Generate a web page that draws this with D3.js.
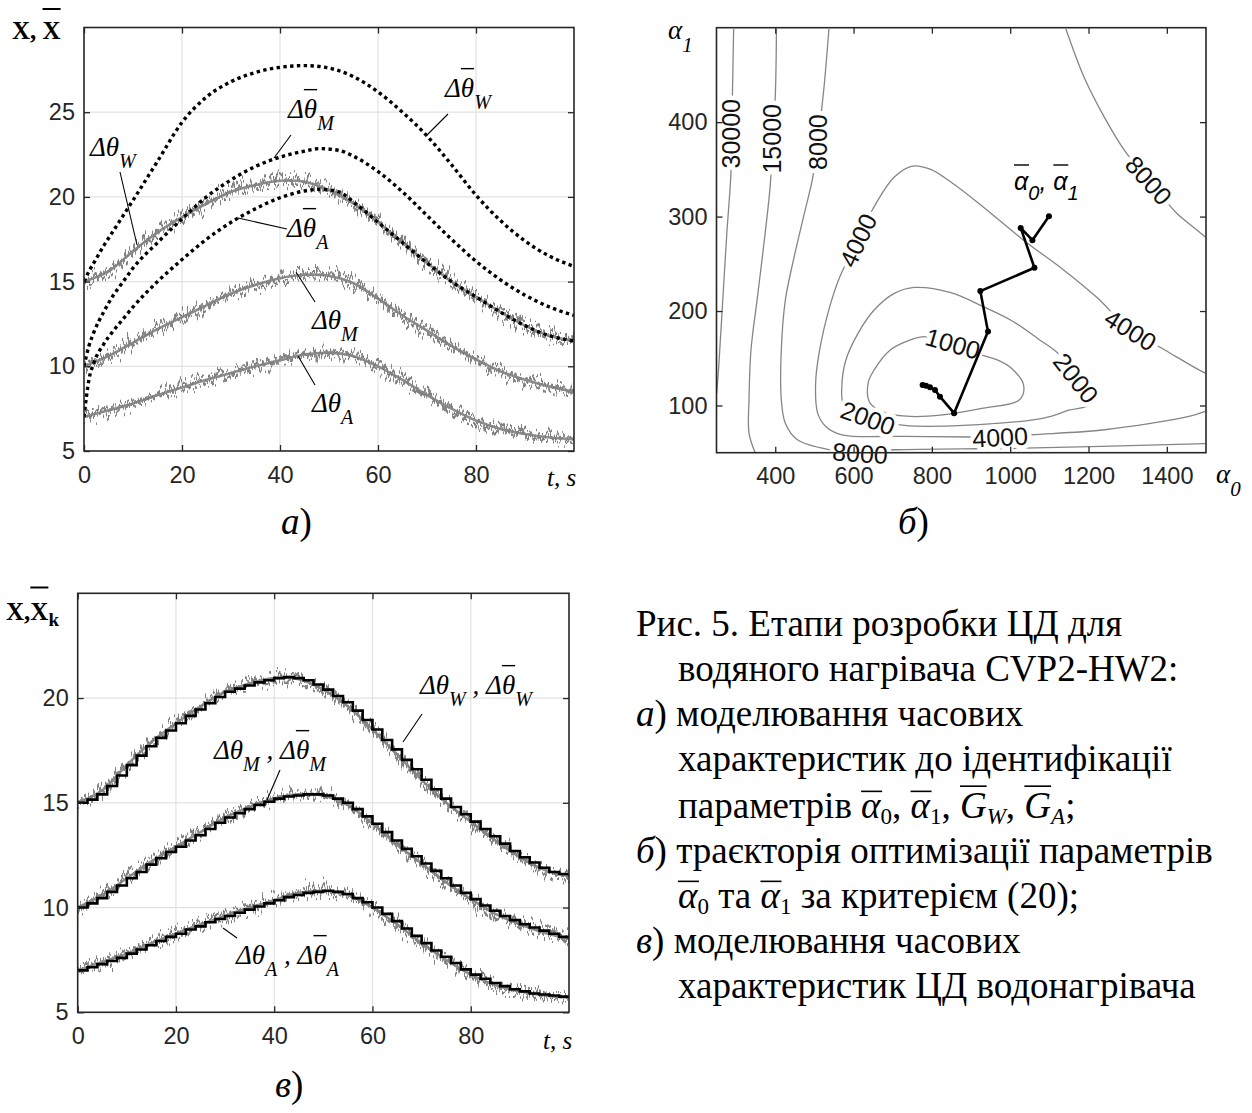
<!DOCTYPE html>
<html><head><meta charset="utf-8">
<script src="https://cdn.jsdelivr.net/npm/d3@7"></script>
<style>body{margin:0;background:#fff} svg{display:block}</style>
</head><body>
<svg id="c" width="1252" height="1113"></svg>
<script>
// ---------------- DATA ----------------
// panel a / c : measured (grey) temperature rises, read every 5 s
const tMeas = [0,5,10,15,20,25,30,35,40,45,50,55,60,65,70,75,80,85,90,95,100];
const W_meas = [15.0,15.6,16.8,17.9,18.8,19.6,20.3,20.7,20.95,20.9,20.4,19.6,18.5,17.3,16.1,15.0,14.1,13.2,12.4,11.8,11.5];
const M_meas = [10.0,10.6,11.4,12.2,12.9,13.6,14.3,14.8,15.2,15.4,15.35,14.9,14.0,13.0,12.1,11.2,10.4,9.7,9.2,8.8,8.5];
const A_meas = [7.0,7.4,7.8,8.3,8.75,9.2,9.6,10.0,10.35,10.7,10.8,10.6,10.0,9.2,8.3,7.5,6.8,6.3,6.0,5.8,5.7];

// panel a : model before identification (dotted)
const tDot = [0,1,2,4,6,8,10,15,20,25,30,35,40,45,48,52,55,60,65,70,75,80,85,90,95,100];
const W_dot = [15.0,15.6,16.1,17.1,18.0,18.9,19.8,22.1,24.4,25.9,26.8,27.35,27.65,27.75,27.7,27.45,27.1,26.2,25.0,23.6,21.9,20.1,18.6,17.4,16.5,15.9];
const M_dot = [10.0,11.2,12.0,13.2,14.2,15.0,15.8,17.3,18.7,20.0,21.0,21.8,22.35,22.7,22.85,22.75,22.4,21.5,20.3,18.9,17.5,16.2,15.1,14.2,13.5,13.0];
const A_dot = [7.0,9.2,10.2,11.3,12.1,12.8,13.5,15.0,16.3,17.5,18.5,19.3,19.95,20.35,20.45,20.3,19.7,18.5,17.3,16.1,15.0,14.1,13.2,12.4,11.8,11.5];

// panel c : digital-twin output (staircase), sampled every 2 s
const tStep = [0,2,4,6,8,10,12,14,16,18,20,22,24,26,28,30,32,34,36,38,40,42,44,46,48,50,52,54,56,58,60,62,64,66,68,70,72,74,76,78,80,82,84,86,88,90,92,94,96,98,100];
const W_k = [15.0,15.15,15.4,15.8,16.3,16.8,17.25,17.7,18.1,18.45,18.8,19.15,19.45,19.75,20.05,20.3,20.45,20.6,20.75,20.85,20.95,21.0,20.95,20.85,20.65,20.4,20.1,19.8,19.4,18.95,18.5,18.0,17.55,17.05,16.6,16.1,15.65,15.2,14.8,14.45,14.1,13.75,13.4,13.05,12.7,12.4,12.15,11.9,11.7,11.6,11.5];
const M_k = [10.0,10.2,10.45,10.75,11.05,11.4,11.7,12.05,12.35,12.65,12.9,13.2,13.45,13.75,14.05,14.3,14.5,14.7,14.9,15.05,15.2,15.3,15.35,15.4,15.4,15.35,15.2,15.0,14.7,14.35,14.0,13.6,13.2,12.8,12.45,12.1,11.75,11.4,11.05,10.7,10.4,10.1,9.85,9.6,9.4,9.2,9.05,8.9,8.75,8.6,8.5];
const A_k = [7.0,7.15,7.3,7.45,7.6,7.8,8.0,8.2,8.4,8.6,8.75,8.95,9.1,9.3,9.45,9.6,9.75,9.9,10.05,10.2,10.35,10.5,10.6,10.7,10.75,10.8,10.75,10.65,10.45,10.25,10.0,9.7,9.35,9.0,8.65,8.3,7.95,7.65,7.35,7.05,6.8,6.6,6.4,6.25,6.1,6.0,5.9,5.85,5.8,5.75,5.7];

// ticks
const tTicks = [0,20,40,60,80];
const yTicksA = [5,10,15,20,25];
const yTicksC = [5,10,15,20];
const a0Ticks = [400,600,800,1000,1200,1400];
const a1Ticks = [100,200,300,400];

// panel b : contour lines (alpha0, alpha1)
const c30000 = [[293.8,498.6],[290.7,429.9],[288.6,387],[286.6,343.7],[276.3,282.0],[266.0,211.6],[255.7,141.2],[250.5,113.0]];
const c15000 = [[403.1,498.6],[400,426.4],[392.8,382.4],[387.6,334.9],[369.1,264.4],[353.6,211.6],[338.1,158.8],[333,106],[333,70.8],[348.4,50.4]];
const c8000a = [[537.1,498.6],[523.7,433.5],[508.3,378.9],[495.9,341.9],[472.2,299.6],[446.4,253.9],[425.8,211.6],[415.5,158.8],[415.5,106.0],[425.8,81.3],[456.7,63.7],[539.2,53.2],[616.5,50.5],[704.1,53.1],[1034,54.8],[1498,59.7]];
const c8000b = [[1142.3,498.6],[1188.7,447.5],[1240.3,405.3],[1291.8,370.1],[1353.7,338.4],[1425.9,303.2],[1467.1,289.1],[1498,278.5]];
const c4000 = [[1498,93.7],[1456.8,88.4],[1240.3,74.3],[1054.7,69.0],[974.3,66.6],[900,66.6],[724.8,67.3],[570.1,69.0],[528.9,77.8],[508.3,91.9],[503.1,123.6],[513.4,158.8],[539.2,204.6],[565,236.3],[611.4,275],[647.4,306.7],[704.1,341.9],[750.5,353.5],[796.9,350.0],[848.5,336.6],[931,310.2],[1034.1,275],[1137.2,243.3],[1219.6,215.1],[1307.3,179.9],[1394.9,158.8],[1467.1,141.2],[1498,134.2]];
const c2000 = [[637,86.6],[729.9,78.9],[879.4,78.9],[1085.6,86.7],[1150,95],[1204,101.8],[1168,129],[1121.7,155.3],[1075.3,169.4],[1008.3,188.7],[931.0,204.6],[848.5,219.4],[755.7,225.0],[704.1,218.7],[652.6,201.1],[611.4,176.4],[580.4,148.2],[570.1,120.1],[575.3,100.7]];
const c1000 = [[853.6,165.8],[925.8,153.5],[967.1,148.2],[1003.1,139.4],[1034.1,121.8],[1023.8,106],[931,97.2],[827.9,90.1],[745.4,88.4],[683.5,91.9],[642.3,102.5],[637.1,123.6],[652.6,137.7],[693.8,158.8],[745.4,169.4],[781.5,172.9]];
const contourLevels = ['30000','15000','8000','4000','4000','4000','2000','2000','1000','8000','8000'];
const labelA0 = [286.6,392.8,508.3,611.4,1307.3,974.3,637,1168,853.6,1353.7,616.5];
const labelA1 = [387.7,382.4,378.9,275,179.9,66.6,86.6,129,165.5,338.4,49.5];
const labelRot = [-90,-90,-90,-65,32,-3,20,52,16,48,4];
// optimisation trajectory
const traj = [[1099,300.4],[1056.7,275],[1026.8,288],[1061.9,245.8],[923.7,221.1],[943.3,178.2],[856.7,91.9],[820.7,109.3],[808,116.4],[795.2,119.2],[785,121],[776.3,121.8]];

// ---------------- DRAWING ----------------
const SANS = "'Liberation Sans', Arial, sans-serif";
const SERIF = "'Liberation Serif', 'Times New Roman', serif";
const INK = '#262626';
const svg = d3.select('#c');
svg.append('rect').attr('width',1252).attr('height',1113).attr('fill','#fff');
const defs = svg.append('defs');

function noiseFilter(id, seed, scale, freq) {
  const f = defs.append('filter').attr('id', id).attr('x','-3%').attr('y','-40%').attr('width','106%').attr('height','180%')
    .attr('color-interpolation-filters','sRGB');
  f.append('feTurbulence').attr('type','fractalNoise').attr('baseFrequency', freq).attr('numOctaves',2).attr('seed',seed).attr('result','t');
  f.append('feColorMatrix').attr('in','t').attr('type','matrix')
    .attr('values','0 0 0 0 0.5  0 1 0 0 0  0 0 0 0 0  0 0 0 0 1').attr('result','m');
  f.append('feDisplacementMap').attr('in','SourceGraphic').attr('in2','m').attr('scale',scale)
    .attr('xChannelSelector','R').attr('yChannelSelector','G');
}
noiseFilter('nz1', 3, 34, '0.45 0.02');
noiseFilter('nz2', 11, 34, '0.45 0.02');
noiseFilter('nz3', 23, 28, '0.3 0.02');

function rich(parent, x, y, parts, o) {
  const t = parent.append('text').attr('x', x).attr('y', y)
    .attr('font-family', o.ff).attr('font-size', o.fs).attr('fill', o.fill || '#000')
    .attr('font-style', o.st || 'normal').attr('font-weight', o.fw || 'normal');
  let cur = 0;
  const spans = parts.map(p => {
    const off = p.sub ? o.subDy : 0;
    const s = t.append('tspan').text(p.t).attr('dy', off - cur);
    cur = off;
    if (p.sub) s.attr('font-size', o.subFs);
    if (p.st) s.attr('font-style', p.st);
    if (p.fw) s.attr('font-weight', p.fw);
    if (p.dx) s.attr('dx', p.dx);
    return s;
  });
  parts.forEach((p, i) => {
    if (p.ob != null) {
      const b = spans[i].node().getBBox();
      const yy = y - p.ob * o.fs;
      parent.append('line').attr('x1', b.x + (p.obL || 0) * o.fs).attr('x2', b.x + b.width + (p.obR || 0) * o.fs)
        .attr('y1', yy).attr('y2', yy).attr('stroke', o.fill || '#000').attr('stroke-width', o.obW || 1.5);
    }
  });
  return t;
}

function grid(g, x, y, xv, yv) {
  const [x0, x1] = x.range(), [y0, y1] = y.range();
  g.append('g').selectAll('line').data(xv).join('line')
    .attr('x1', d => x(d)).attr('x2', d => x(d)).attr('y1', y0).attr('y2', y1)
    .attr('stroke', '#e2e2e2').attr('stroke-width', 1.2);
  g.append('g').selectAll('line').data(yv).join('line')
    .attr('y1', d => y(d)).attr('y2', d => y(d)).attr('x1', x0).attr('x2', x1)
    .attr('stroke', '#e2e2e2').attr('stroke-width', 1.2);
}

function axes(g, x, y, xv, yv, xpad) {
  const [x0, x1] = x.range(), [y0, y1] = y.range();
  const fmt = d3.format('d');
  const style = sel => {
    sel.select('.domain').remove();
    sel.selectAll('.tick line').attr('stroke', INK).attr('stroke-width', 1.3);
    sel.selectAll('.tick text').attr('font-family', SANS).attr('font-size', 23.5).attr('fill', INK);
  };
  g.append('g').attr('transform', `translate(0,${y0})`).call(d3.axisBottom(x).tickValues(xv).tickFormat(fmt).tickSize(-6).tickPadding(xpad)).call(style);
  g.append('g').attr('transform', `translate(0,${y1})`).call(d3.axisTop(x).tickValues(xv).tickSize(-6).tickFormat('')).call(style);
  g.append('g').attr('transform', `translate(${x0},0)`).call(d3.axisLeft(y).tickValues(yv).tickFormat(fmt).tickSize(-6).tickPadding(9)).call(style);
  g.append('g').attr('transform', `translate(${x1},0)`).call(d3.axisRight(y).tickValues(yv).tickSize(-6).tickFormat('')).call(style);
  g.append('rect').attr('x', x0).attr('y', y1).attr('width', x1 - x0).attr('height', y0 - y1)
    .attr('fill', 'none').attr('stroke', INK).attr('stroke-width', 1.6);
}

function clip(id, x, y) {
  const [x0, x1] = x.range(), [y0, y1] = y.range();
  defs.append('clipPath').attr('id', id).append('rect').attr('x', x0).attr('y', y1).attr('width', x1 - x0).attr('height', y0 - y1);
  return `url(#${id})`;
}

function pointer(g, x1, y1, x2, y2) {
  g.append('line').attr('x1', x1).attr('y1', y1).attr('x2', x2).attr('y2', y2).attr('stroke', '#000').attr('stroke-width', 1.1);
}

function noisy(g, d, k) {
  g.append('path').attr('d', d).attr('fill', 'none').attr('stroke', '#8c8c8c').attr('stroke-width', 2.6);
  g.append('path').attr('d', d).attr('fill', 'none').attr('stroke', '#808080').attr('stroke-width', 3)
    .attr('filter', `url(#nz${k % 3 + 1})`);
  g.append('path').attr('d', d).attr('fill', 'none').attr('stroke', '#858585').attr('stroke-width', 2.4)
    .attr('filter', `url(#nz${(k + 1) % 3 + 1})`);
}

const annOpt = {ff: SERIF, fs: 27, st: 'italic', subFs: 20, subDy: 12, obW: 1.4};

// ===== Panel a =====
const gA = svg.append('g');
const xa = d3.scaleLinear([0, 100], [84, 574]);
const ya = d3.scaleLinear([5, 30], [451, 27.5]);
grid(gA, xa, ya, [20, 40, 60, 80], [10, 15, 20, 25]);
const cpA = clip('cpa', xa, ya);
const dA = gA.append('g').attr('clip-path', cpA);
const lineMeasA = d3.line().x((d, i) => xa(tMeas[i])).y(d => ya(d)).curve(d3.curveCatmullRom);
[W_meas, M_meas, A_meas].forEach((s, k) => noisy(dA, lineMeasA(s), k));
const lineDot = d3.line().x((d, i) => xa(tDot[i])).y(d => ya(d)).curve(d3.curveMonotoneX);
[W_dot, M_dot, A_dot].forEach(s => {
  dA.append('path').attr('d', lineDot(s)).attr('fill', 'none').attr('stroke', '#000').attr('stroke-width', 3.4)
    .attr('stroke-dasharray', '3.4 3.4');
});
axes(gA, xa, ya, tTicks, yTicksA, 15);
// annotations a
rich(gA, 90, 156, [{t: 'Δθ'}, {t: 'W', sub: 1}], annOpt); pointer(gA, 120, 172, 137, 245);
rich(gA, 288, 118, [{t: 'Δ'}, {t: 'θ', ob: 1.05}, {t: 'M', sub: 1}], annOpt); pointer(gA, 291, 135, 274, 158);
rich(gA, 445, 97, [{t: 'Δ'}, {t: 'θ', ob: 1.05}, {t: 'W', sub: 1}], annOpt); pointer(gA, 448, 114, 426, 136);
rich(gA, 287, 237, [{t: 'Δ'}, {t: 'θ', ob: 1.05}, {t: 'A', sub: 1}], annOpt); pointer(gA, 287, 229, 238, 218);
rich(gA, 312, 329, [{t: 'Δθ'}, {t: 'M', sub: 1}], annOpt); pointer(gA, 315, 302, 296, 272);
rich(gA, 312, 412, [{t: 'Δθ'}, {t: 'A', sub: 1}], annOpt); pointer(gA, 315, 385, 298, 356);
// axis titles a
rich(gA, 12, 39, [{t: 'X, '}, {t: 'X', ob: 1.2}], {ff: SERIF, fs: 25, fw: 'bold', obW: 2});
gA.append('text').attr('x', 547).attr('y', 486).attr('font-family', SERIF).attr('font-style', 'italic').attr('font-size', 25).text('t, s');
rich(svg, 281, 534, [{t: 'а', st: 'italic'}, {t: ')'}], {ff: SERIF, fs: 37});

// ===== Panel b =====
const gB = svg.append('g');
const xb = d3.scaleLinear([250, 1500], [716.5, 1206]);
const yb = d3.scaleLinear([50, 500], [452.7, 27.7]);
const cpB = clip('cpb', xb, yb);
const dB = gB.append('g').attr('clip-path', cpB);
const cLine = d3.line().x(d => xb(d[0])).y(d => yb(d[1])).curve(d3.curveCatmullRom.alpha(0.5));
const cLineClosed = d3.line().x(d => xb(d[0])).y(d => yb(d[1])).curve(d3.curveCatmullRomClosed.alpha(0.5));
[c30000, c15000, c8000a, c8000b, c4000].forEach(c => {
  dB.append('path').attr('d', cLine(c)).attr('fill', 'none').attr('stroke', '#858585').attr('stroke-width', 1.3);
});
[c2000, c1000].forEach(c => {
  dB.append('path').attr('d', cLineClosed(c)).attr('fill', 'none').attr('stroke', '#858585').attr('stroke-width', 1.3);
});
// contour labels (white halo opens the line)
contourLevels.forEach((lv, i) => {
  gB.append('text').attr('transform', `translate(${xb(labelA0[i])},${yb(labelA1[i])}) rotate(${labelRot[i]})`)
    .attr('text-anchor', 'middle').attr('dy', '0.36em')
    .attr('font-family', SANS).attr('font-size', 25).attr('fill', '#111')
    .attr('stroke', '#fff').attr('stroke-width', 9).attr('paint-order', 'stroke').attr('stroke-linejoin', 'round')
    .text(lv);
});
// trajectory
const tLine = d3.line().x(d => xb(d[0])).y(d => yb(d[1]));
gB.append('path').attr('d', tLine(traj)).attr('fill', 'none').attr('stroke', '#000').attr('stroke-width', 2.6).attr('stroke-linejoin', 'round');
gB.append('g').selectAll('circle').data(traj).join('circle')
  .attr('cx', d => xb(d[0])).attr('cy', d => yb(d[1])).attr('r', 3).attr('fill', '#000');
axes(gB, xb, yb, a0Ticks, a1Ticks, 15);
rich(gB, 1014, 190, [{t: 'α', ob: 1.0}, {t: '0', sub: 1}, {t: ', '}, {t: 'α', ob: 1.0}, {t: '1', sub: 1}],
  {ff: SANS, fs: 25, st: 'italic', subFs: 20, subDy: 10, obW: 1.4});
rich(gB, 668, 39, [{t: 'α'}, {t: '1', sub: 1}], {ff: SERIF, fs: 27, st: 'italic', subFs: 21, subDy: 13});
rich(gB, 1216, 483, [{t: 'α'}, {t: '0', sub: 1}], {ff: SERIF, fs: 27, st: 'italic', subFs: 21, subDy: 13});
rich(svg, 898, 534, [{t: 'б', st: 'italic'}, {t: ')'}], {ff: SERIF, fs: 37});

// ===== Panel c =====
const gC = svg.append('g');
const xc = d3.scaleLinear([0, 100], [77.7, 569]);
const yc = d3.scaleLinear([5, 25], [1012.3, 593.3]);
grid(gC, xc, yc, [20, 40, 60, 80], [10, 15, 20]);
const cpC = clip('cpc', xc, yc);
const dC = gC.append('g').attr('clip-path', cpC);
const lineMeasC = d3.line().x((d, i) => xc(tMeas[i])).y(d => yc(d)).curve(d3.curveCatmullRom);
[W_meas, M_meas, A_meas].forEach((s, k) => noisy(dC, lineMeasC(s), k + 1));
const stepLine = d3.line().x((d, i) => xc(tStep[i])).y(d => yc(d)).curve(d3.curveStepAfter);
[W_k, M_k, A_k].forEach(s => {
  dC.append('path').attr('d', stepLine(s)).attr('fill', 'none').attr('stroke', '#000').attr('stroke-width', 2.6);
});
axes(gC, xc, yc, tTicks, yTicksC, 15);
rich(gC, 420, 694, [{t: 'Δθ'}, {t: 'W', sub: 1}, {t: ' , '}, {t: 'Δ'}, {t: 'θ', ob: 1.05}, {t: 'W', sub: 1}], annOpt);
pointer(gC, 422, 714, 403, 742);
rich(gC, 214, 759, [{t: 'Δθ'}, {t: 'M', sub: 1}, {t: ' , '}, {t: 'Δ'}, {t: 'θ', ob: 1.05}, {t: 'M', sub: 1}], annOpt);
pointer(gC, 280, 770, 267, 800);
rich(gC, 236, 964, [{t: 'Δθ'}, {t: 'A', sub: 1}, {t: ' , '}, {t: 'Δ'}, {t: 'θ', ob: 1.05}, {t: 'A', sub: 1}], annOpt);
pointer(gC, 237, 938, 223, 928);
rich(gC, 6, 620, [{t: 'X,'}, {t: 'X', ob: 1.3}, {t: 'k', sub: 1}], {ff: SERIF, fs: 25, fw: 'bold', subFs: 19, subDy: 6, obW: 2});
gC.append('text').attr('x', 543).attr('y', 1049).attr('font-family', SERIF).attr('font-style', 'italic').attr('font-size', 25).text('t, s');
rich(svg, 275, 1097, [{t: 'в', st: 'italic'}, {t: ')'}], {ff: SERIF, fs: 37});

// ===== Caption =====
const capX = [636, 678, 636, 678, 678, 636, 678, 636, 678];
const capY = [636, 681, 726, 771, 818, 863, 908, 953, 998];
const capParts = [
  [{t: 'Рис. 5. Етапи розробки ЦД для'}],
  [{t: 'водяного нагрівача CVP2-HW2:'}],
  [{t: 'а', st: 'italic'}, {t: ') моделювання часових'}],
  [{t: 'характеристик до ідентифікації'}],
  [{t: 'параметрів  '}, {t: 'α', st: 'italic', ob: 0.72}, {t: '0', sub: 1}, {t: ', '}, {t: 'α', st: 'italic', ob: 0.72}, {t: '1', sub: 1}, {t: ', '},
   {t: 'G', st: 'italic', ob: 0.86}, {t: 'W', st: 'italic', sub: 1}, {t: ', '}, {t: 'G', st: 'italic', ob: 0.86}, {t: 'A', st: 'italic', sub: 1}, {t: ';'}],
  [{t: 'б', st: 'italic'}, {t: ') траєкторія оптимізації параметрів'}],
  [{t: 'α', st: 'italic', ob: 0.72}, {t: '0', sub: 1}, {t: '  та  '}, {t: 'α', st: 'italic', ob: 0.72}, {t: '1', sub: 1}, {t: '  за критерієм (20);'}],
  [{t: 'в', st: 'italic'}, {t: ') моделювання часових'}],
  [{t: 'характеристик ЦД водонагрівача'}]
];
const gT = svg.append('g');
capParts.forEach((p, i) => rich(gT, capX[i], capY[i], p, {ff: SERIF, fs: 37, subFs: 23, subDy: 6, obW: 1.6}));
</script></body></html>
